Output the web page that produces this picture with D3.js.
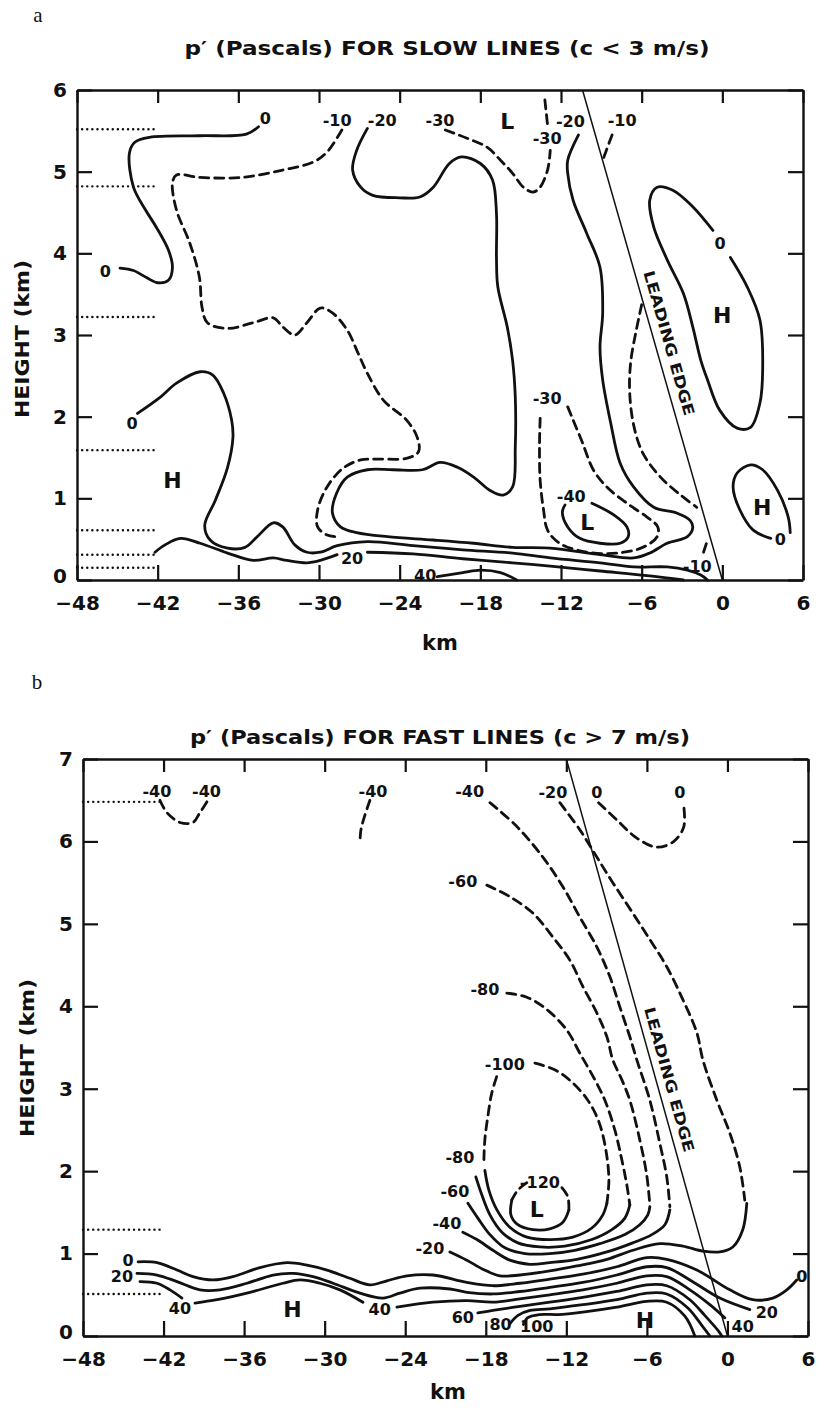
<!DOCTYPE html>
<html><head><meta charset="utf-8">
<script src="https://cdn.jsdelivr.net/npm/d3@7"></script>
<style>body{margin:0;background:#fff}</style>
</head><body>
<svg id="c" width="820" height="1411" xmlns="http://www.w3.org/2000/svg"></svg>
<script>
// ---------- axis ticks ----------
const xTicks = [-48,-42,-36,-30,-24,-18,-12,-6,0,6];
const yTicksA = [0,1,2,3,4,5,6];
const yTicksB = [0,1,2,3,4,5,6,7];

// ---------- panel a : contours [km, height km] ----------
const a_c0_top = [[-34.5,5.55],[-35.4,5.46],[-38.9,5.44],[-42.6,5.42],[-43.7,5.36],[-44.1,5.23],[-43.8,4.81],[-42.9,4.53],[-42.1,4.32],[-41.2,4.04],[-40.9,3.83],[-41.2,3.67],[-42.0,3.64],[-42.8,3.70],[-43.8,3.79],[-44.8,3.82]];
const a_m10 = [[-28.3,5.51],[-29.4,5.24],[-30.4,5.12],[-32.7,5.02],[-35.7,4.93],[-38.9,4.93],[-40.6,4.96],[-40.9,4.86],[-40.6,4.53],[-39.6,4.12],[-38.9,3.71],[-38.7,3.34],[-38.3,3.15],[-36.8,3.08],[-34.9,3.15],[-33.4,3.21],[-32.7,3.10],[-31.8,3.00],[-30.9,3.15],[-29.9,3.33],[-29.0,3.27],[-27.9,3.06],[-27.1,2.78],[-26.4,2.53],[-25.2,2.20],[-23.5,1.96],[-22.7,1.75],[-22.6,1.57],[-23.5,1.49],[-25.5,1.48],[-26.9,1.47],[-28.2,1.37],[-29.4,1.14],[-30.1,0.86],[-30.1,0.65],[-29.4,0.55],[-28.7,0.53]];
const a_m20 = [[-26.4,5.53],[-27.2,5.26],[-27.5,5.02],[-26.9,4.81],[-26.0,4.71],[-24.0,4.68],[-22.5,4.69],[-21.5,4.81],[-20.3,5.10],[-19.4,5.18],[-18.0,5.10],[-17.1,4.90],[-16.8,4.49],[-16.8,3.95],[-16.7,3.59],[-16.0,3.10],[-15.6,2.69],[-15.4,2.24],[-15.4,1.63],[-15.6,1.14],[-16.3,1.04],[-17.3,1.10],[-18.5,1.26],[-19.7,1.38],[-21.0,1.44],[-22.3,1.35],[-24.5,1.35],[-26.4,1.35],[-27.9,1.26],[-28.7,1.06],[-29.0,0.82],[-28.4,0.65],[-27.2,0.58],[-24.9,0.53],[-21.5,0.49],[-18.5,0.45],[-15.6,0.40],[-12.8,0.39],[-9.1,0.31],[-6.6,0.27],[-5.4,0.33],[-4.1,0.45],[-2.6,0.53],[-2.2,0.64],[-2.4,0.73],[-3.4,0.82],[-5.1,0.89],[-6.6,1.14],[-7.6,1.43],[-8.3,1.92],[-8.9,2.45],[-9.1,2.85],[-8.9,3.27],[-9.1,3.83],[-10.1,4.25],[-11.1,4.65],[-11.5,4.98],[-11.5,5.14],[-10.7,5.45]];
const a_m30_top = [[-20.6,5.51],[-19.0,5.41],[-17.5,5.30],[-16.5,5.14],[-15.6,4.98],[-14.8,4.81],[-14.1,4.75],[-13.6,4.80],[-13.0,5.02],[-12.8,5.26]];
const a_m30_top2 = [[-13.2,5.88],[-13.0,5.57]];
const a_m10_top = [[-8.2,5.45],[-8.9,5.14]];
const a_m10_le = [[-6.0,3.37],[-6.4,3.06],[-6.8,2.69],[-6.9,2.33],[-6.6,1.90],[-5.9,1.55],[-4.6,1.26],[-3.1,1.04],[-1.9,0.89]];
const a_m10_bot = [[-1.4,0.34],[-1.1,0.49]];
const a_m30_low = [[-11.5,2.12],[-11.1,1.96],[-10.4,1.68],[-9.6,1.35],[-8.6,1.14],[-7.1,0.94],[-5.6,0.77],[-4.8,0.65],[-4.85,0.53],[-5.9,0.40],[-7.8,0.33],[-10.05,0.34],[-12.1,0.45],[-13.0,0.61],[-13.3,0.86],[-13.55,1.22],[-13.6,1.63],[-13.55,1.98]];
const a_m40 = [[-9.7,0.94],[-8.1,0.80],[-7.1,0.65],[-7.0,0.53],[-7.6,0.45],[-9.1,0.45],[-10.6,0.51],[-11.5,0.65],[-11.9,0.83],[-11.7,0.92]];
const a_c0_H = [[-43.5,2.04],[-41.8,2.24],[-40.6,2.41],[-38.85,2.55],[-37.9,2.51],[-37.1,2.29],[-36.5,1.96],[-36.4,1.75],[-36.8,1.38],[-37.7,0.98],[-38.5,0.67],[-38.1,0.49],[-36.8,0.39],[-35.5,0.40],[-34.6,0.53],[-33.4,0.70],[-32.7,0.65],[-31.8,0.43],[-30.9,0.34],[-29.9,0.34],[-28.65,0.42],[-26.4,0.47],[-23.0,0.42],[-19.3,0.37],[-15.6,0.33],[-12.8,0.27],[-9.1,0.21],[-6.6,0.16],[-4.1,0.16],[-2.6,0.12],[-1.6,0.06],[-1.1,0]];
const a_c20_1 = [[-42.2,0.34],[-41.45,0.43],[-40.3,0.51],[-38.85,0.45],[-36.8,0.33],[-34.9,0.24],[-33.4,0.27],[-32.4,0.24],[-30.9,0.21],[-29.9,0.24],[-28.65,0.31]];
const a_c20_2 = [[-26.4,0.34],[-23.0,0.32],[-19.3,0.26],[-15.6,0.21],[-12.8,0.17],[-9.1,0.11],[-5.4,0.05],[-2.9,0]];
const a_c40 = [[-21.2,0.04],[-19.3,0.09],[-18.0,0.12],[-16.5,0.09],[-15.3,0]];
const a_c0_Hr = [[-0.7,4.28],[-2.2,4.57],[-3.65,4.77],[-4.85,4.81],[-5.4,4.65],[-5.1,4.32],[-4.1,3.92],[-2.9,3.51],[-2.2,3.10],[-1.6,2.69],[-1.1,2.45],[-0.2,2.08],[1.1,1.86],[2.1,1.87],[2.8,2.17],[3.0,2.57],[2.8,3.18],[1.85,3.59],[0.6,3.95]];
const a_c0_Hs = [[3.6,0.51],[2.3,0.61],[1.3,0.86],[0.8,1.14],[1.1,1.31],[2.1,1.41],[3.0,1.35],[4.1,1.10],[4.9,0.77],[5.05,0.58]];
const a_lead = [[-10.4,6],[0,0]];
const a_dots = [5.52,4.82,3.22,1.59,0.61,0.31,0.15];
const a_labels = [["0",-34.0,5.65],["-10",-28.65,5.63],["-20",-25.3,5.63],["-30",-21.0,5.63],["L",-16.0,5.61],["-30",-13.03,5.41],["-20",-11.3,5.61],["-10",-7.45,5.63],["0",-45.9,3.78],["0",-43.9,1.92],["H",-40.9,1.22],["20",-27.54,0.26],["40",-22.1,0.06],["-30",-13.03,2.22],["-40",-11.24,1.02],["L",-10.05,0.71],["-10",-1.87,0.17],["0",-0.16,4.12],["H",-0.01,3.24],["H",2.97,0.89],["0",4.31,0.49]];

// ---------- panel b : contours ----------
const b_m40_tl = [[-42.27,6.50],[-41.75,6.35],[-40.78,6.23],[-39.81,6.23],[-39.29,6.35],[-38.69,6.50]];
const b_m40_mid = [[-26.63,6.50],[-27.0,6.32],[-27.3,6.14],[-27.37,5.98]];
const b_m40_d = [[-17.69,6.47],[-15.68,6.18],[-13.75,5.81],[-12.26,5.45],[-10.99,5.08],[-9.73,4.72],[-8.76,4.36],[-8.01,3.99],[-7.27,3.63],[-6.75,3.35],[-5.78,2.86],[-5.04,2.34],[-4.52,1.93],[-4.29,1.57]];
const b_m40_s = [[-4.29,1.53],[-4.66,1.35],[-5.63,1.23],[-7.05,1.13],[-8.98,1.02],[-11.22,0.93],[-13.23,0.89],[-14.72,0.87],[-16.21,0.92],[-17.47,1.04],[-18.66,1.17],[-19.71,1.26]];
const b_m60_d = [[-17.92,5.47],[-16.21,5.33],[-14.49,5.13],[-13.00,4.84],[-11.74,4.56],[-10.77,4.24],[-9.73,3.92],[-8.98,3.63],[-8.54,3.35],[-7.87,3.11],[-7.27,2.86],[-6.53,2.38],[-6.01,1.95],[-5.78,1.59]];
const b_m60_s = [[-5.78,1.57],[-5.93,1.47],[-6.53,1.35],[-7.64,1.23],[-9.50,1.12],[-11.37,1.04],[-13.23,1.00],[-15.09,1.00],[-16.58,1.07],[-17.69,1.23],[-18.59,1.43],[-19.33,1.61]];
const b_m80_d = [[-16.43,4.16],[-14.94,4.11],[-13.45,3.96],[-11.96,3.71],[-10.99,3.43],[-9.88,3.11],[-9.13,2.86],[-8.39,2.50],[-7.87,2.14],[-7.49,1.83],[-7.27,1.59]];
const b_m80_s = [[-7.27,1.59],[-7.64,1.43],[-8.61,1.29],[-10.10,1.17],[-12.11,1.09],[-13.97,1.08],[-15.61,1.13],[-16.80,1.26],[-17.69,1.47],[-18.29,1.71],[-18.74,1.93]];
const b_m100_d1 = [[-14.34,3.31],[-12.86,3.23],[-11.59,3.08],[-10.40,2.86],[-9.58,2.60],[-9.06,2.26],[-8.83,1.89],[-8.98,1.61]];
const b_m100_s = [[-8.98,1.61],[-9.28,1.47],[-10.10,1.31],[-11.51,1.20],[-13.23,1.17],[-14.94,1.20],[-16.21,1.32],[-17.17,1.53],[-17.77,1.77],[-18.07,2.01]];
const b_m100_d2 = [[-18.14,2.14],[-18.07,2.38],[-17.85,2.66],[-17.55,2.95],[-17.10,3.19]];
const b_m120_d1 = [[-14.94,1.86],[-15.61,1.77],[-16.06,1.65]];
const b_m120_s = [[-16.06,1.65],[-16.13,1.47],[-15.61,1.35],[-14.49,1.29],[-13.23,1.30],[-12.26,1.38],[-11.81,1.53]];
const b_m120_d2 = [[-11.81,1.53],[-11.89,1.69],[-12.33,1.80]];
const b_m20_d = [[-12.48,6.47],[-10.99,6.14],[-9.73,5.81],[-8.54,5.50],[-7.05,5.13],[-5.78,4.81],[-4.52,4.48],[-3.32,4.08],[-2.28,3.68],[-1.83,3.35],[-0.79,2.86],[0.18,2.46],[0.92,2.05],[1.29,1.65]];
const b_m20_s = [[1.44,1.61],[1.14,1.29],[0.40,1.08],[-0.57,1.02],[-1.83,1.03],[-3.32,1.09],[-5.04,1.12],[-7.05,1.04],[-8.98,0.93],[-11.22,0.85],[-13.23,0.79],[-15.46,0.74],[-16.95,0.73],[-18.22,0.81],[-19.41,0.92],[-20.67,1.02]];
const b_0top = [[-9.6,6.47],[-8.24,6.26],[-6.75,6.04],[-5.26,5.93],[-3.99,6.0],[-3.25,6.18],[-3.25,6.42]];
const b_c0 = [[-43.90,0.90],[-42.49,0.89],[-41.00,0.80],[-39.81,0.72],[-38.32,0.68],[-36.83,0.72],[-34.82,0.83],[-32.81,0.89],[-31.32,0.86],[-29.83,0.80],[-28.12,0.70],[-26.63,0.62],[-25.36,0.67],[-23.87,0.73],[-21.94,0.74],[-19.41,0.65],[-17.47,0.61],[-15.46,0.64],[-13.23,0.69],[-10.77,0.75],[-8.24,0.84],[-6.01,0.95],[-4.52,0.93],[-2.28,0.80],[0.18,0.56],[1.89,0.44],[3.38,0.46],[4.42,0.56],[5.16,0.68]];
const b_c20 = [[-43.98,0.76],[-42.49,0.74],[-41.00,0.66],[-39.29,0.56],[-37.80,0.56],[-35.79,0.64],[-33.85,0.74],[-32.36,0.76],[-30.87,0.72],[-29.38,0.64],[-27.37,0.52],[-25.66,0.46],[-24.40,0.52],[-22.91,0.58],[-20.67,0.57],[-19.41,0.53],[-17.47,0.51],[-15.46,0.54],[-13.23,0.59],[-10.77,0.65],[-8.24,0.74],[-6.01,0.84],[-4.52,0.83],[-2.80,0.68],[-0.57,0.46],[1.67,0.32]];
const b_c40_1 = [[-43.76,0.66],[-42.49,0.64],[-41.52,0.56],[-40.63,0.46]];
const b_c40_2 = [[-39.66,0.40],[-38.02,0.44],[-35.57,0.53],[-33.11,0.64],[-31.84,0.68],[-30.35,0.64],[-28.86,0.56],[-27.15,0.41]];
const b_c40_3 = [[-24.62,0.35],[-21.94,0.41],[-19.41,0.43],[-17.47,0.41],[-15.46,0.45],[-13.23,0.50],[-10.77,0.56],[-8.24,0.64],[-6.01,0.73],[-4.52,0.72],[-2.80,0.56],[-1.31,0.38],[-0.20,0.22]];
const b_c60 = [[-18.59,0.28],[-17.47,0.31],[-15.46,0.36],[-13.23,0.41],[-10.77,0.47],[-8.24,0.54],[-6.01,0.62],[-4.52,0.61],[-2.80,0.44],[-1.69,0.25],[-0.72,0.07],[-0.42,0]];
const b_c80 = [[-16.2,0.15],[-15.6,0.25],[-14.7,0.31],[-13.23,0.33],[-10.77,0.38],[-8.24,0.44],[-6.01,0.52],[-4.52,0.51],[-2.95,0.34],[-1.91,0.13],[-1.31,0]];
const b_c100 = [[-15.2,0.14],[-14.9,0.22],[-14.0,0.26],[-12.6,0.26],[-10.77,0.29],[-8.24,0.35],[-6.01,0.42],[-4.52,0.41],[-3.17,0.24],[-2.43,0]];
const b_lead = [[-12,7],[0,0]];
const b_dots = [6.48,1.29,0.51];
const b_labels = [["-40",-42.5,6.6],["-40",-38.8,6.6],["-40",-26.4,6.6],["-40",-19.2,6.6],["-20",-13.0,6.59],["0",-9.73,6.59],["0",-3.55,6.59],["-60",-19.71,5.51],["-80",-18.07,4.20],["-100",-16.58,3.29],["-120",-13.97,1.86],["L",-14.2,1.53],["-80",-19.93,2.16],["-60",-20.3,1.75],["-40",-20.9,1.37],["-20",-22.16,1.06],["0",-44.65,0.92],["20",-45.1,0.72],["40",-40.78,0.33],["40",-25.9,0.32],["H",-32.4,0.32],["60",-19.71,0.23],["80",-16.9,0.14],["100",-14.2,0.11],["H",-6.15,0.19],["40",1.14,0.11],["20",2.93,0.28],["0",5.54,0.72]];

// ---------- drawing ----------
const svg = d3.select("#c");
svg.append("rect").attr("width",820).attr("height",1411).attr("fill","#fff");
const INK = "#111";

function drawPanel(o){
  const x = d3.scaleLinear().domain([-48,6]).range([o.left,o.right]);
  const y = d3.scaleLinear().domain([0,o.ymax]).range([o.bottom,o.top]);
  const g = svg.append("g");
  const ln = d3.line().x(d=>x(d[0])).y(d=>y(d[1])).curve(d3.curveCatmullRom.alpha(0.5));
  const ax = [
    [d3.axisBottom(x).tickValues(xTicks).tickSize(-15).tickPadding(16).tickFormat(d=>d<0?"\u2212"+(-d):String(d)), `translate(0,${o.bottom})`],
    [d3.axisTop(x).tickValues(xTicks).tickSize(-13).tickFormat(""), `translate(0,${o.top})`],
    [d3.axisLeft(y).tickValues(o.yTicks).tickSize(-15).tickPadding(10).tickFormat(d3.format("d")), `translate(${o.left},0)`],
    [d3.axisRight(y).tickValues(o.yTicks).tickSize(-15).tickFormat(""), `translate(${o.right},0)`]
  ];
  ax.forEach(([a,t],i)=>{
    const gg = g.append("g").attr("transform",t).call(a.tickSizeOuter(0));
    gg.select(".domain").attr("stroke",INK).attr("stroke-width",2.4);
    gg.selectAll(".tick line").attr("stroke",INK).attr("stroke-width",2.2);
    gg.selectAll(".tick text").attr("fill",INK).style("font","bold 20px 'DejaVu Sans'");
    if(i===2) gg.selectAll(".tick text").filter(d=>d===0).attr("dy","0.1em");
  });
  o.dots.forEach(h=>{
    g.append("path").attr("d",d3.line().x(d=>x(d[0])).y(d=>y(d[1]))([[-48,h],[o.dotEnd,h]]))
      .attr("fill","none").attr("stroke",INK).attr("stroke-width",2.4)
      .attr("stroke-linecap","round").attr("stroke-dasharray","0.1,5");
  });
  g.append("path").attr("d",d3.line().x(d=>x(d[0])).y(d=>y(d[1]))(o.lead))
    .attr("fill","none").attr("stroke",INK).attr("stroke-width",1.5);
  const p0=[x(o.lead[0][0]),y(o.lead[0][1])], p1=[x(o.lead[1][0]),y(o.lead[1][1])];
  const ang = Math.atan2(p1[1]-p0[1],p1[0]-p0[0])*180/Math.PI;
  const hy = o.ledgeH, lx = o.lead[0][0]*(hy/o.lead[0][1]);
  const cx = x(lx)+o.ledgeOff, cy = y(hy);
  g.append("text").attr("transform",`translate(${cx},${cy}) rotate(${ang})`)
    .attr("text-anchor","middle").attr("dominant-baseline","central")
    .attr("textLength",o.ledgeLen).attr("lengthAdjust","spacingAndGlyphs")
    .style("font","bold 15px 'DejaVu Sans'").attr("fill",INK).text("LEADING EDGE");
  o.lines.forEach(([pts,dash])=>{
    g.append("path").attr("d",ln(pts)).attr("fill","none").attr("stroke",INK)
      .attr("stroke-width",2.8).attr("stroke-linecap","round").attr("stroke-linejoin","round")
      .attr("stroke-dasharray",dash?"9,6":null);
  });
  o.labels.forEach(([t,k,h])=>{
    const big = (t==="L"||t==="H");
    g.append("text").attr("x",x(k)).attr("y",y(h)).attr("text-anchor","middle")
      .attr("dominant-baseline","central").attr("fill",INK)
      .style("font", big ? "bold 22px 'DejaVu Sans'" : "bold 16px 'DejaVu Sans'").text(t);
  });
  g.append("text").attr("transform",`translate(${o.yLabX},${o.yLabY}) rotate(-90)`)
    .attr("text-anchor","middle").attr("dominant-baseline","central")
    .attr("textLength",158).attr("lengthAdjust","spacingAndGlyphs")
    .style("font","bold 20px 'DejaVu Sans'").attr("fill",INK).text("HEIGHT (km)");
  g.append("text").attr("x",o.kmX).attr("y",o.kmY).attr("text-anchor","middle")
    .attr("dominant-baseline","central").style("font","bold 21px 'DejaVu Sans'").attr("fill",INK).text("km");
  g.append("text").attr("x",o.titleX).attr("y",o.titleY).attr("text-anchor","middle")
    .attr("dominant-baseline","central").attr("textLength",o.titleLen).attr("lengthAdjust","spacingAndGlyphs")
    .style("font","bold 19px 'DejaVu Sans'").attr("fill",INK).text(o.title);
  g.append("text").attr("x",o.letX).attr("y",o.letY).attr("text-anchor","middle")
    .attr("dominant-baseline","central").style("font","21px 'Liberation Serif'").attr("fill",INK).text(o.letter);
}

drawPanel({
  left:77,right:803,top:90,bottom:580,ymax:6,yTicks:yTicksA,
  dots:a_dots,dotEnd:-42,lead:a_lead,ledgeH:2.9,ledgeOff:14,ledgeLen:150,
  lines:[[a_c0_top,false],[a_m10,true],[a_m20,false],[a_m30_top,true],[a_m30_top2,true],[a_m10_top,true],[a_m10_le,true],[a_m10_bot,true],[a_m30_low,true],[a_m40,false],[a_c0_H,false],[a_c20_1,false],[a_c20_2,false],[a_c40,false],[a_c0_Hr,false],[a_c0_Hs,false]],
  labels:a_labels,
  yLabX:22,yLabY:339,kmX:440,kmY:643,
  title:"p\u2032 (Pascals) FOR SLOW LINES (c < 3 m/s)",titleX:447,titleY:48,titleLen:525,
  letter:"a",letX:38,letY:15
});
drawPanel({
  left:83,right:808,top:759,bottom:1336,ymax:7,yTicks:yTicksB,
  dots:b_dots,dotEnd:-42,lead:b_lead,ledgeH:3.11,ledgeOff:13,ledgeLen:150,
  lines:[[b_m40_tl,true],[b_m40_mid,true],[b_m40_d,true],[b_m40_s,false],[b_m60_d,true],[b_m60_s,false],[b_m80_d,true],[b_m80_s,false],[b_m100_d1,true],[b_m100_s,false],[b_m100_d2,true],[b_m120_d1,true],[b_m120_s,false],[b_m120_d2,true],[b_m20_d,true],[b_m20_s,false],[b_0top,true],[b_c0,false],[b_c20,false],[b_c40_1,false],[b_c40_2,false],[b_c40_3,false],[b_c60,false],[b_c80,false],[b_c100,false]],
  labels:b_labels,
  yLabX:27,yLabY:1058,kmX:448,kmY:1392,
  title:"p\u2032 (Pascals) FOR FAST LINES (c > 7 m/s)",titleX:440,titleY:737,titleLen:500,
  letter:"b",letX:37,letY:682
});
</script>
</body></html>
